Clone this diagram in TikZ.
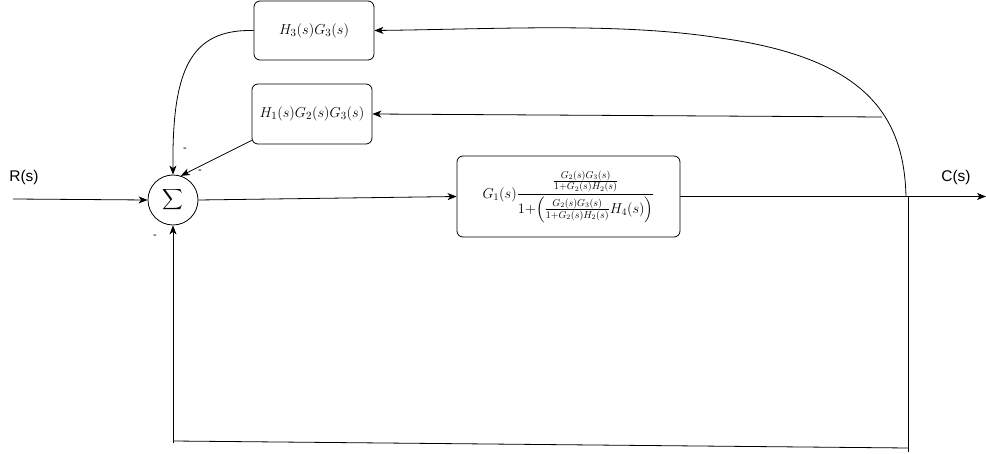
\documentclass[tikz,border=0pt]{standalone}
\usepackage{amsmath}
\usepackage{fontspec}
\newfontfamily\lab{Liberation Sans}
\usetikzlibrary{arrows.meta}
\begin{document}
\begin{tikzpicture}[x=1pt,y=-1pt,
  blk/.style={draw, rounded corners=6pt, line width=0.8pt, inner sep=0pt, font=\fontsize{15.3}{17}\selectfont},
  ln/.style={line width=0.8pt},
  conn/.style={line width=0.8pt, -{Stealth[length=9pt,width=7pt,inset=2.5pt]}},
  lbl/.style={font=\lab\fontsize{15.5}{17}\selectfont, inner sep=0pt},
  mns/.style={font=\lab\fontsize{11}{12}\selectfont, inner sep=0pt}]
\useasboundingbox (0,0) rectangle (986,454);
% blocks
\node[blk, minimum width=120pt, minimum height=59pt] (h3) at (314,30.5) {$H_3(s)G_3(s)$};
\node[blk, minimum width=120pt, minimum height=60pt] (h1) at (312,114) {$H_1(s)G_2(s)G_3(s)$};
\node[blk, minimum width=223pt, minimum height=81pt, font=\fontsize{14.4}{16}\selectfont] (g) at (568.5,196.5)
  {$\displaystyle G_1(s)\frac{\frac{G_2(s)G_3(s)}{1+G_2(s)H_2(s)}}{1{+}\Bigl(\frac{G_2(s)G_3(s)}{1+G_2(s)H_2(s)}H_4(s)\Bigr)}$};
\node[draw, circle, line width=0.8pt, minimum size=50pt, inner sep=0pt, font=\fontsize{15}{17}\selectfont] (sum) at (173,200) {$\displaystyle\sum$};
% labels
\node[lbl] (rs) at (24,177) {R(s)};
\node[lbl] (cs) at (956,177) {C(s)};
\node[mns] (m1) at (185,150) {-};
\node[mns] (m2) at (200,172) {-};
\node[mns] (m3) at (155,237) {-};
% coordinates
\coordinate (rin) at (13,199);
\coordinate (cout) at (986,196.5);
\coordinate (br) at (906,196.5);
\coordinate (mid) at (720,38);
\coordinate (tap) at (882,117);
\coordinate (dtop) at (908,196.5);
\coordinate (dbot) at (908,452);
\coordinate (bl) at (908,448);
\coordinate (br2) at (173,441);
\coordinate (up) at (173,443);
% connectors
\draw[conn] (rin) -- (sum.west);
\draw[conn] (sum.east) -- (g.west);
\draw[conn] (g.east) -- (cout);
\draw[conn] (br) .. controls (904,115) and (865,58) .. (mid) .. controls (620,22.3) and (500,29) .. (h3.east);
\draw[conn] (tap) -- (h1.east);
\draw[ln] (dtop) -- (dbot);
\draw[ln] (bl) -- (br2);
\draw[conn] (up) -- (sum.south);
\draw[conn] (h3.west) .. controls (190,29) and (172,70) .. (sum.north);
\draw[conn] ([yshift=4pt]h1.south west) -- (sum.72);
\end{tikzpicture}
\end{document}
